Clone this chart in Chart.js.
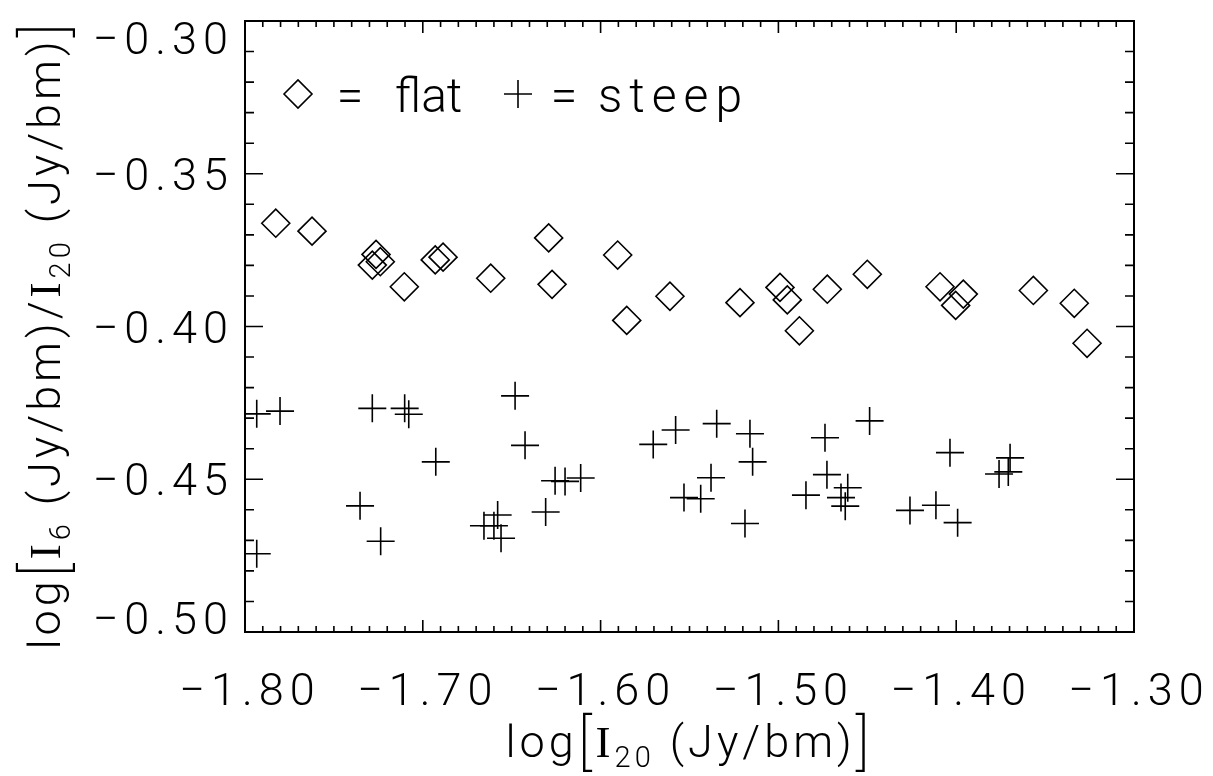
<!DOCTYPE html>
<html>
<head>
<meta charset="utf-8">
<script src="https://cdn.jsdelivr.net/npm/chart.js@4/dist/chart.umd.min.js"></script>
<style>
  html, body { margin: 0; padding: 0; background: #fff; }
  canvas { display: block; }
</style>
</head>
<body>
<canvas id="chart" width="1213" height="776"></canvas>
<script>
// flat-spectrum sources (diamonds)
const flatX = [-1.7827, -1.7623, -1.7263, -1.7284, -1.7239, -1.7104, -1.6930, -1.6886, -1.6618,
               -1.6292, -1.6273, -1.5904, -1.5853, -1.5610, -1.5216, -1.4991, -1.4950, -1.4882,
               -1.4725, -1.4500, -1.4091, -1.3960, -1.4003, -1.3566, -1.3336, -1.3264];
const flatY = [-0.3662, -0.3688, -0.3764, -0.3799, -0.3788, -0.3870, -0.3782, -0.3773, -0.3842,
               -0.3710, -0.3862, -0.3766, -0.3980, -0.3901, -0.3922, -0.3872, -0.3913, -0.4014,
               -0.3878, -0.3829, -0.3870, -0.3894, -0.3931, -0.3882, -0.3924, -0.4055];

// steep-spectrum sources (crosses)
const steepX = [-1.7934, -1.7803, -1.7284, -1.7102, -1.7079, -1.6481, -1.6425, -1.6927, -1.5704,
                -1.5578, -1.5531, -1.6256, -1.6200, -1.6112, -1.7353, -1.6309, -1.6579, -1.6656,
                -1.6600, -1.6560, -1.7237, -1.7934, -1.5347, -1.5160, -1.5145, -1.5379, -1.5437,
                -1.5188, -1.4738, -1.4487, -1.4727, -1.4845, -1.4610, -1.4648, -1.4624, -1.4035,
                -1.4260, -1.4114, -1.3992, -1.3697, -1.3759, -1.3707];
const steepY = [-0.4286, -0.4277, -0.4268, -0.4268, -0.4287, -0.4227, -0.4389, -0.4443, -0.4386,
                -0.4339, -0.4560, -0.4505, -0.4507, -0.4496, -0.4587, -0.4607, -0.4617, -0.4652,
                -0.4652, -0.4693, -0.4703, -0.4744, -0.4318, -0.4351, -0.4443, -0.4495, -0.4564,
                -0.4645, -0.4364, -0.4309, -0.4485, -0.4552, -0.4528, -0.4560, -0.4588, -0.4413,
                -0.4602, -0.4585, -0.4642, -0.4430, -0.4483, -0.4476];

const xTicks = [-1.80, -1.70, -1.60, -1.50, -1.40, -1.30];
const yTicks = [-0.30, -0.35, -0.40, -0.45, -0.50];
const xMinorStep = 0.01;
const yMinorStep = 0.01;

const LABEL_FONT = '300 45px Roboto';
const INK = '#000';

function fmt(v) {
  return (v < 0 ? '\u2212' : '') + Math.abs(v).toFixed(2);
}

function toPoints(xs, ys) {
  return xs.map((x, i) => ({ x: x, y: ys[i] }));
}

// draws a run of text pieces (font / vertical shift) side by side
function drawRich(ctx, parts, x, y) {
  let total = 0;
  parts.forEach(p => { ctx.font = p.font; total += ctx.measureText(p.t).width; });
  let cx = x - total / 2;
  parts.forEach(p => {
    ctx.font = p.font;
    ctx.fillText(p.t, cx, y + (p.dy || 0));
    cx += ctx.measureText(p.t).width;
  });
}

const idlFrame = {
  id: 'idlFrame',
  afterDraw(chart) {
    const ctx = chart.ctx;
    const a = chart.chartArea;
    const xs = chart.scales.x, ys = chart.scales.y;
    ctx.save();
    ctx.strokeStyle = INK;
    ctx.fillStyle = INK;
    ctx.lineWidth = 2;
    ctx.strokeRect(a.left, a.top, a.right - a.left, a.bottom - a.top);

    // ticks on all four sides, pointing inward
    ctx.lineWidth = 1.6;
    ctx.beginPath();
    const nx = Math.round((xs.max - xs.min) / xMinorStep);
    for (let i = 0; i <= nx; i++) {
      const px = xs.getPixelForValue(xs.min + i * xMinorStep);
      const len = i % 10 === 0 ? 12 : 6;
      ctx.moveTo(px, a.bottom); ctx.lineTo(px, a.bottom - len);
      ctx.moveTo(px, a.top); ctx.lineTo(px, a.top + len);
    }
    const ny = Math.round((ys.max - ys.min) / yMinorStep);
    for (let i = 0; i <= ny; i++) {
      const py = ys.getPixelForValue(ys.min + i * yMinorStep);
      const len = i % 5 === 0 ? 18 : 9;
      ctx.moveTo(a.left, py); ctx.lineTo(a.left + len, py);
      ctx.moveTo(a.right, py); ctx.lineTo(a.right - len, py);
    }
    ctx.stroke();

    ctx.letterSpacing = '6px';
    ctx.font = LABEL_FONT;
    const capH = 32;

    // x tick labels
    ctx.textAlign = 'center';
    ctx.textBaseline = 'alphabetic';
    xTicks.forEach(v => {
      ctx.fillText(fmt(v), xs.getPixelForValue(v) + 5, a.bottom + 41 + capH);
    });

    // y tick labels, kept inside the axis range like IDL does
    ctx.textAlign = 'right';
    yTicks.forEach(v => {
      let py = ys.getPixelForValue(v) + capH / 2;
      py = Math.min(Math.max(py, a.top + capH + 1), a.bottom + 2);
      ctx.fillText(fmt(v), a.left - 11, py);
    });

    // axis titles
    ctx.letterSpacing = '4px';
    ctx.textAlign = 'left';
    const base = '300 45px Roboto';
    const sub = '300 29px Roboto';
    const serif = '45px "Liberation Serif"';
    const brk = '200 62px Roboto';
    drawRich(ctx, [
      { t: 'log', font: base },
      { t: '[', font: brk, dy: 6 },
      { t: 'I', font: serif },
      { t: '20', font: sub, dy: 10 },
      { t: ' (Jy/bm)', font: base },
      { t: ']', font: brk, dy: 6 }
    ], (a.left + a.right) / 2, 757);

    ctx.save();
    ctx.translate(60, (a.top + a.bottom) / 2 + 8);
    ctx.rotate(-Math.PI / 2);
    drawRich(ctx, [
      { t: 'log', font: base },
      { t: '[', font: brk, dy: 6 },
      { t: 'I', font: serif },
      { t: '6', font: sub, dy: 10 },
      { t: ' (Jy/bm)/', font: base },
      { t: 'I', font: serif },
      { t: '20', font: sub, dy: 10 },
      { t: ' (Jy/bm)', font: base },
      { t: ']', font: brk, dy: 6 }
    ], 0, 0);
    ctx.restore();

    // legend
    const ly = 94;
    ctx.lineWidth = 1.6;
    ctx.beginPath();
    const dx = 298, r = 14;
    ctx.moveTo(dx - r, ly); ctx.lineTo(dx, ly - r); ctx.lineTo(dx + r, ly); ctx.lineTo(dx, ly + r);
    ctx.closePath();
    const cx = 518;
    ctx.moveTo(cx - r, ly); ctx.lineTo(cx + r, ly);
    ctx.moveTo(cx, ly - r); ctx.lineTo(cx, ly + r);
    ctx.stroke();
    ctx.font = '300 48px Roboto';
    ctx.letterSpacing = '0px';
    ctx.textAlign = 'center';
    ctx.fillText('=', 350, 112);
    ctx.fillText('=', 564, 112);
    ctx.textAlign = 'left';
    ctx.fillText('flat', 395, 112);
    ctx.letterSpacing = '7px';
    ctx.fillText('steep', 598, 112);
    ctx.restore();
  }
};

new Chart(document.getElementById('chart'), {
  type: 'scatter',
  data: {
    datasets: [
      {
        label: 'flat',
        data: toPoints(flatX, flatY),
        pointStyle: 'rectRot',
        pointRadius: 14,
        borderColor: INK,
        backgroundColor: 'rgba(0,0,0,0)',
        borderWidth: 1.6,
        clip: 0
      },
      {
        label: 'steep',
        data: toPoints(steepX, steepY),
        pointStyle: 'cross',
        pointRadius: 14,
        borderColor: INK,
        backgroundColor: INK,
        borderWidth: 1.6,
        clip: 0
      }
    ]
  },
  options: {
    responsive: false,
    animation: false,
    devicePixelRatio: 1,
    events: [],
    layout: { padding: { left: 245, top: 21, right: 79, bottom: 144 } },
    plugins: { legend: { display: false }, tooltip: { enabled: false } },
    scales: {
      x: { type: 'linear', min: -1.80, max: -1.30, display: false },
      y: { type: 'linear', min: -0.50, max: -0.30, display: false }
    }
  },
  plugins: [idlFrame]
});
</script>
</body>
</html>
